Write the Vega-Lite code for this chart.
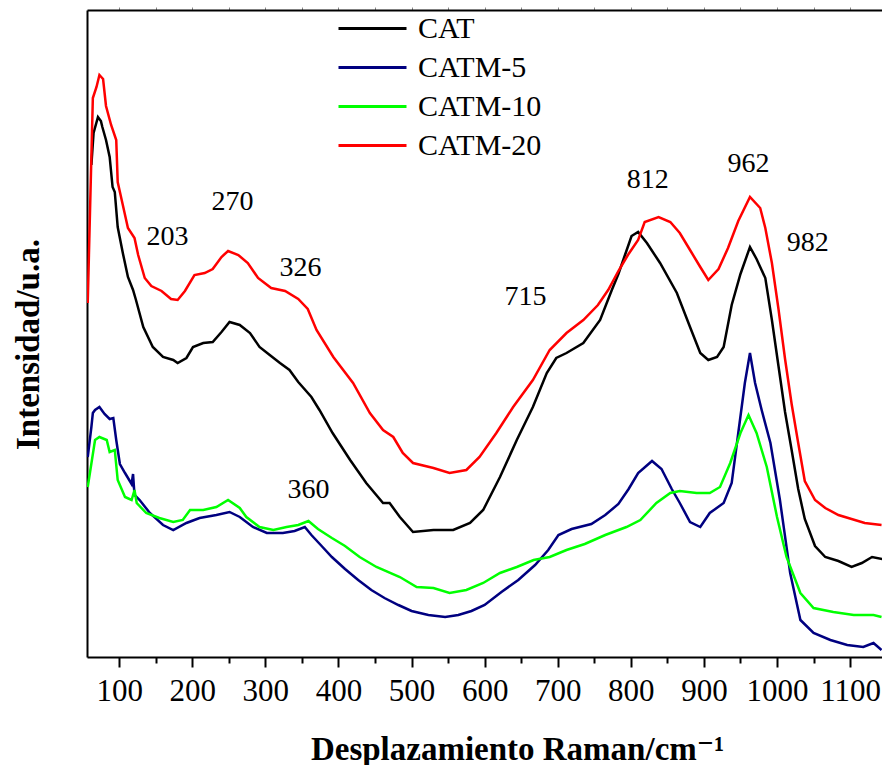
{
  "$schema": "https://vega.github.io/schema/vega-lite/v6.json",
  "width": 796,
  "height": 647,
  "autosize": "none",
  "padding": {"left": 87, "top": 10, "right": 0, "bottom": 108},
  "config": {"font": "'Liberation Serif', 'Times New Roman', Times, 'DejaVu Serif', serif", "view": {"stroke": null}, "background": "white"},
  "datasets": {
    "spectra": [
      {"s":"CAT","w":62,"I":492},{"s":"CAT","w":65,"I":524},{"s":"CAT","w":71,"I":540},{"s":"CAT","w":75,"I":536},{"s":"CAT","w":77,"I":530},{"s":"CAT","w":82,"I":517},{"s":"CAT","w":87,"I":500},{"s":"CAT","w":91,"I":470},{"s":"CAT","w":94,"I":465},{"s":"CAT","w":98,"I":430},{"s":"CAT","w":105,"I":404},{"s":"CAT","w":112,"I":380},{"s":"CAT","w":119,"I":367},{"s":"CAT","w":123,"I":357},{"s":"CAT","w":133,"I":330},{"s":"CAT","w":146,"I":310},{"s":"CAT","w":160,"I":300},{"s":"CAT","w":174,"I":297},{"s":"CAT","w":180,"I":294},{"s":"CAT","w":192,"I":299},{"s":"CAT","w":201,"I":310},{"s":"CAT","w":215,"I":314},{"s":"CAT","w":228,"I":315},{"s":"CAT","w":240,"I":325},{"s":"CAT","w":251,"I":335},{"s":"CAT","w":265,"I":332},{"s":"CAT","w":279,"I":324},{"s":"CAT","w":292,"I":310},{"s":"CAT","w":306,"I":302},{"s":"CAT","w":320,"I":294},{"s":"CAT","w":333,"I":287},{"s":"CAT","w":345,"I":275},{"s":"CAT","w":363,"I":260},{"s":"CAT","w":374,"I":247},{"s":"CAT","w":392,"I":224},{"s":"CAT","w":416,"I":197},{"s":"CAT","w":438,"I":174},{"s":"CAT","w":461,"I":154},{"s":"CAT","w":470,"I":154},{"s":"CAT","w":484,"I":140},{"s":"CAT","w":502,"I":125},{"s":"CAT","w":530,"I":127},{"s":"CAT","w":557,"I":127},{"s":"CAT","w":580,"I":134},{"s":"CAT","w":598,"I":147},{"s":"CAT","w":621,"I":180},{"s":"CAT","w":644,"I":217},{"s":"CAT","w":666,"I":250},{"s":"CAT","w":685,"I":284},{"s":"CAT","w":698,"I":299},{"s":"CAT","w":712,"I":304},{"s":"CAT","w":735,"I":314},{"s":"CAT","w":758,"I":337},{"s":"CAT","w":774,"I":367},{"s":"CAT","w":783,"I":383},{"s":"CAT","w":792,"I":402},{"s":"CAT","w":801,"I":421},{"s":"CAT","w":810,"I":425},{"s":"CAT","w":822,"I":414},{"s":"CAT","w":840,"I":394},{"s":"CAT","w":863,"I":364},{"s":"CAT","w":881,"I":330},{"s":"CAT","w":895,"I":304},{"s":"CAT","w":906,"I":297},{"s":"CAT","w":918,"I":300},{"s":"CAT","w":927,"I":310},{"s":"CAT","w":938,"I":352},{"s":"CAT","w":950,"I":383},{"s":"CAT","w":963,"I":410},{"s":"CAT","w":972,"I":398},{"s":"CAT","w":984,"I":379},{"s":"CAT","w":993,"I":337},{"s":"CAT","w":1002,"I":291},{"s":"CAT","w":1011,"I":245},{"s":"CAT","w":1020,"I":207},{"s":"CAT","w":1029,"I":168},{"s":"CAT","w":1038,"I":138},{"s":"CAT","w":1052,"I":111},{"s":"CAT","w":1066,"I":100},{"s":"CAT","w":1084,"I":96},{"s":"CAT","w":1102,"I":90},{"s":"CAT","w":1116,"I":94},{"s":"CAT","w":1130,"I":100},{"s":"CAT","w":1144,"I":98},

      {"s":"CATM-5","w":57,"I":200},{"s":"CATM-5","w":62,"I":230},{"s":"CATM-5","w":64,"I":244},{"s":"CATM-5","w":67,"I":247},{"s":"CATM-5","w":73,"I":250},{"s":"CATM-5","w":80,"I":243},{"s":"CATM-5","w":87,"I":238},{"s":"CATM-5","w":92,"I":239},{"s":"CATM-5","w":96,"I":217},{"s":"CATM-5","w":101,"I":193},{"s":"CATM-5","w":108,"I":184},{"s":"CATM-5","w":117,"I":173},{"s":"CATM-5","w":119,"I":183},{"s":"CATM-5","w":121,"I":162},{"s":"CATM-5","w":128,"I":157},{"s":"CATM-5","w":142,"I":144},{"s":"CATM-5","w":160,"I":132},{"s":"CATM-5","w":174,"I":127},{"s":"CATM-5","w":192,"I":134},{"s":"CATM-5","w":210,"I":139},{"s":"CATM-5","w":233,"I":142},{"s":"CATM-5","w":251,"I":145},{"s":"CATM-5","w":265,"I":140},{"s":"CATM-5","w":283,"I":130},{"s":"CATM-5","w":302,"I":124},{"s":"CATM-5","w":324,"I":124},{"s":"CATM-5","w":340,"I":126},{"s":"CATM-5","w":354,"I":130},{"s":"CATM-5","w":363,"I":122},{"s":"CATM-5","w":377,"I":111},{"s":"CATM-5","w":391,"I":100},{"s":"CATM-5","w":409,"I":88},{"s":"CATM-5","w":427,"I":77},{"s":"CATM-5","w":445,"I":67},{"s":"CATM-5","w":463,"I":59},{"s":"CATM-5","w":482,"I":52},{"s":"CATM-5","w":500,"I":46},{"s":"CATM-5","w":523,"I":42},{"s":"CATM-5","w":546,"I":40},{"s":"CATM-5","w":564,"I":42},{"s":"CATM-5","w":582,"I":46},{"s":"CATM-5","w":600,"I":52},{"s":"CATM-5","w":623,"I":65},{"s":"CATM-5","w":646,"I":77},{"s":"CATM-5","w":669,"I":92},{"s":"CATM-5","w":687,"I":107},{"s":"CATM-5","w":701,"I":122},{"s":"CATM-5","w":719,"I":128},{"s":"CATM-5","w":746,"I":133},{"s":"CATM-5","w":765,"I":142},{"s":"CATM-5","w":783,"I":153},{"s":"CATM-5","w":797,"I":168},{"s":"CATM-5","w":810,"I":184},{"s":"CATM-5","w":829,"I":196},{"s":"CATM-5","w":842,"I":188},{"s":"CATM-5","w":856,"I":168},{"s":"CATM-5","w":867,"I":154},{"s":"CATM-5","w":881,"I":135},{"s":"CATM-5","w":895,"I":130},{"s":"CATM-5","w":908,"I":144},{"s":"CATM-5","w":927,"I":154},{"s":"CATM-5","w":938,"I":174},{"s":"CATM-5","w":947,"I":224},{"s":"CATM-5","w":956,"I":274},{"s":"CATM-5","w":963,"I":304},{"s":"CATM-5","w":970,"I":274},{"s":"CATM-5","w":979,"I":247},{"s":"CATM-5","w":991,"I":214},{"s":"CATM-5","w":1004,"I":157},{"s":"CATM-5","w":1018,"I":84},{"s":"CATM-5","w":1032,"I":37},{"s":"CATM-5","w":1050,"I":24},{"s":"CATM-5","w":1073,"I":17},{"s":"CATM-5","w":1096,"I":12},{"s":"CATM-5","w":1118,"I":10},{"s":"CATM-5","w":1132,"I":14},{"s":"CATM-5","w":1143,"I":7},

      {"s":"CATM-10","w":57,"I":170},{"s":"CATM-10","w":67,"I":217},{"s":"CATM-10","w":73,"I":220},{"s":"CATM-10","w":83,"I":217},{"s":"CATM-10","w":87,"I":205},{"s":"CATM-10","w":94,"I":207},{"s":"CATM-10","w":98,"I":177},{"s":"CATM-10","w":108,"I":160},{"s":"CATM-10","w":117,"I":157},{"s":"CATM-10","w":121,"I":167},{"s":"CATM-10","w":124,"I":154},{"s":"CATM-10","w":137,"I":144},{"s":"CATM-10","w":155,"I":139},{"s":"CATM-10","w":174,"I":135},{"s":"CATM-10","w":187,"I":137},{"s":"CATM-10","w":197,"I":147},{"s":"CATM-10","w":215,"I":147},{"s":"CATM-10","w":233,"I":150},{"s":"CATM-10","w":249,"I":157},{"s":"CATM-10","w":265,"I":149},{"s":"CATM-10","w":274,"I":140},{"s":"CATM-10","w":292,"I":130},{"s":"CATM-10","w":311,"I":127},{"s":"CATM-10","w":329,"I":130},{"s":"CATM-10","w":345,"I":132},{"s":"CATM-10","w":359,"I":136},{"s":"CATM-10","w":372,"I":128},{"s":"CATM-10","w":391,"I":119},{"s":"CATM-10","w":409,"I":111},{"s":"CATM-10","w":429,"I":100},{"s":"CATM-10","w":452,"I":90},{"s":"CATM-10","w":484,"I":80},{"s":"CATM-10","w":507,"I":70},{"s":"CATM-10","w":530,"I":69},{"s":"CATM-10","w":552,"I":64},{"s":"CATM-10","w":575,"I":67},{"s":"CATM-10","w":598,"I":74},{"s":"CATM-10","w":621,"I":84},{"s":"CATM-10","w":644,"I":90},{"s":"CATM-10","w":667,"I":97},{"s":"CATM-10","w":689,"I":100},{"s":"CATM-10","w":712,"I":107},{"s":"CATM-10","w":737,"I":113},{"s":"CATM-10","w":765,"I":122},{"s":"CATM-10","w":794,"I":130},{"s":"CATM-10","w":813,"I":137},{"s":"CATM-10","w":835,"I":154},{"s":"CATM-10","w":854,"I":164},{"s":"CATM-10","w":867,"I":166},{"s":"CATM-10","w":890,"I":164},{"s":"CATM-10","w":908,"I":164},{"s":"CATM-10","w":922,"I":170},{"s":"CATM-10","w":936,"I":194},{"s":"CATM-10","w":950,"I":224},{"s":"CATM-10","w":961,"I":242},{"s":"CATM-10","w":972,"I":224},{"s":"CATM-10","w":986,"I":190},{"s":"CATM-10","w":1000,"I":140},{"s":"CATM-10","w":1013,"I":100},{"s":"CATM-10","w":1032,"I":64},{"s":"CATM-10","w":1050,"I":49},{"s":"CATM-10","w":1077,"I":45},{"s":"CATM-10","w":1105,"I":42},{"s":"CATM-10","w":1132,"I":42},{"s":"CATM-10","w":1143,"I":40},

      {"s":"CATM-20","w":57,"I":354},{"s":"CATM-20","w":64,"I":559},{"s":"CATM-20","w":69,"I":570},{"s":"CATM-20","w":73,"I":582},{"s":"CATM-20","w":78,"I":578},{"s":"CATM-20","w":82,"I":551},{"s":"CATM-20","w":89,"I":532},{"s":"CATM-20","w":96,"I":517},{"s":"CATM-20","w":98,"I":475},{"s":"CATM-20","w":105,"I":452},{"s":"CATM-20","w":112,"I":429},{"s":"CATM-20","w":121,"I":419},{"s":"CATM-20","w":126,"I":402},{"s":"CATM-20","w":135,"I":379},{"s":"CATM-20","w":144,"I":371},{"s":"CATM-20","w":158,"I":366},{"s":"CATM-20","w":171,"I":358},{"s":"CATM-20","w":180,"I":357},{"s":"CATM-20","w":190,"I":366},{"s":"CATM-20","w":203,"I":382},{"s":"CATM-20","w":217,"I":384},{"s":"CATM-20","w":228,"I":388},{"s":"CATM-20","w":240,"I":400},{"s":"CATM-20","w":249,"I":406},{"s":"CATM-20","w":263,"I":402},{"s":"CATM-20","w":276,"I":394},{"s":"CATM-20","w":290,"I":379},{"s":"CATM-20","w":308,"I":369},{"s":"CATM-20","w":327,"I":366},{"s":"CATM-20","w":345,"I":358},{"s":"CATM-20","w":358,"I":348},{"s":"CATM-20","w":370,"I":327},{"s":"CATM-20","w":393,"I":300},{"s":"CATM-20","w":420,"I":274},{"s":"CATM-20","w":443,"I":244},{"s":"CATM-20","w":461,"I":227},{"s":"CATM-20","w":475,"I":220},{"s":"CATM-20","w":488,"I":204},{"s":"CATM-20","w":502,"I":194},{"s":"CATM-20","w":530,"I":189},{"s":"CATM-20","w":552,"I":184},{"s":"CATM-20","w":575,"I":187},{"s":"CATM-20","w":593,"I":200},{"s":"CATM-20","w":616,"I":224},{"s":"CATM-20","w":639,"I":250},{"s":"CATM-20","w":666,"I":277},{"s":"CATM-20","w":689,"I":307},{"s":"CATM-20","w":712,"I":324},{"s":"CATM-20","w":735,"I":337},{"s":"CATM-20","w":755,"I":352},{"s":"CATM-20","w":769,"I":367},{"s":"CATM-20","w":783,"I":386},{"s":"CATM-20","w":796,"I":402},{"s":"CATM-20","w":810,"I":417},{"s":"CATM-20","w":819,"I":435},{"s":"CATM-20","w":838,"I":440},{"s":"CATM-20","w":854,"I":435},{"s":"CATM-20","w":867,"I":424},{"s":"CATM-20","w":881,"I":407},{"s":"CATM-20","w":895,"I":390},{"s":"CATM-20","w":906,"I":377},{"s":"CATM-20","w":920,"I":388},{"s":"CATM-20","w":933,"I":409},{"s":"CATM-20","w":947,"I":436},{"s":"CATM-20","w":963,"I":460},{"s":"CATM-20","w":977,"I":449},{"s":"CATM-20","w":984,"I":429},{"s":"CATM-20","w":993,"I":394},{"s":"CATM-20","w":1002,"I":348},{"s":"CATM-20","w":1011,"I":298},{"s":"CATM-20","w":1020,"I":253},{"s":"CATM-20","w":1029,"I":214},{"s":"CATM-20","w":1038,"I":176},{"s":"CATM-20","w":1052,"I":157},{"s":"CATM-20","w":1066,"I":149},{"s":"CATM-20","w":1084,"I":142},{"s":"CATM-20","w":1102,"I":138},{"s":"CATM-20","w":1120,"I":134},{"s":"CATM-20","w":1143,"I":132}
    ],
    "peaks": [
      {"w":166,"I":420,"label":"203"},
      {"w":255,"I":455,"label":"270"},
      {"w":348,"I":389,"label":"326"},
      {"w":359,"I":167,"label":"360"},
      {"w":656,"I":360,"label":"715"},
      {"w":823,"I":477,"label":"812"},
      {"w":961,"I":493,"label":"962"},
      {"w":1042,"I":414,"label":"982"}
    ]
  },
  "resolve": {"axis": {"x": "independent"}},
  "layer": [
    {
      "data": {"name": "spectra"},
      "mark": {"type": "line", "strokeWidth": 2.5, "clip": true},
      "encoding": {
        "x": {
          "field": "w", "type": "quantitative",
          "scale": {"domain": [56, 1145], "nice": false, "zero": false},
          "axis": {
            "orient": "bottom",
            "values": [100,150,200,250,300,350,400,450,500,550,600,650,700,750,800,850,900,950,1000,1050,1100],
            "format": "d",
            "labelExpr": "datum.value % 100 === 0 ? datum.label : ''",
            "grid": false,
            "domainColor": "black", "domainWidth": 2,
            "tickColor": "black", "tickWidth": 2,
            "tickSize": {"condition": {"test": "datum.value % 100 === 0", "value": 10}, "value": 6},
            "labelFont": "'Liberation Serif', 'Times New Roman', Times, 'DejaVu Serif', serif", "labelFontSize": 31, "labelColor": "black",
            "labelPadding": 9, "labelFlush": false, "labelOverlap": false,
            "title": "Desplazamiento Raman/cm⁻¹",
            "titleFont": "'Liberation Serif', 'Times New Roman', Times, 'DejaVu Serif', serif", "titleFontSize": 33, "titleFontWeight": "bold", "titleColor": "black",
            "titleX": 430, "titleY": 102, "titleAlign": "center", "titleBaseline": "alphabetic"
          }
        },
        "y": {
          "field": "I", "type": "quantitative",
          "scale": {"domain": [0, 647], "nice": false, "zero": false},
          "axis": {
            "orient": "left", "ticks": false, "labels": false, "grid": false,
            "domainColor": "black", "domainWidth": 2,
            "title": "Intensidad/u.a.",
            "titleFont": "'Liberation Serif', 'Times New Roman', Times, 'DejaVu Serif', serif", "titleFontSize": 33, "titleFontWeight": "bold", "titleColor": "black",
            "titleX": -49, "titleY": 334, "titleAngle": -90, "titleAlign": "center", "titleBaseline": "alphabetic"
          }
        },
        "color": {
          "field": "s", "type": "nominal",
          "scale": {"domain": ["CAT", "CATM-5", "CATM-10", "CATM-20"], "range": ["#000000", "#000080", "#00FF00", "#FF0000"]},
          "legend": {
            "orient": "none", "legendX": 270, "legendY": 3, "title": null,
            "symbolType": "M-2.5,0H2.5", "symbolSize": 740, "symbolStrokeWidth": 3,
            "labelFont": "'Liberation Serif', 'Times New Roman', Times, 'DejaVu Serif', serif", "labelFontSize": 30, "labelColor": "black",
            "labelOffset": 30, "rowPadding": 8, "padding": 0
          }
        }
      }
    },
    {
      "data": {"name": "peaks"},
      "mark": {"type": "text", "font": "'Liberation Serif', 'Times New Roman', Times, 'DejaVu Serif', serif", "fontSize": 28, "color": "black", "align": "center", "baseline": "middle"},
      "encoding": {
        "x": {
          "field": "w", "type": "quantitative",
          "scale": {"domain": [56, 1145], "nice": false, "zero": false},
          "axis": {
            "orient": "top", "values": [100,150,200,250,300,350,400,450,500,550,600,650,700,750,800,850,900,950,1000,1050,1100],
            "labels": false, "title": null, "grid": false,
            "domainColor": "black", "domainWidth": 2,
            "tickColor": "#888888", "tickWidth": 1, "tickSize": 3
          }
        },
        "y": {"field": "I", "type": "quantitative", "scale": {"domain": [0, 647], "nice": false, "zero": false}},
        "text": {"field": "label"}
      }
    }
  ]
}
